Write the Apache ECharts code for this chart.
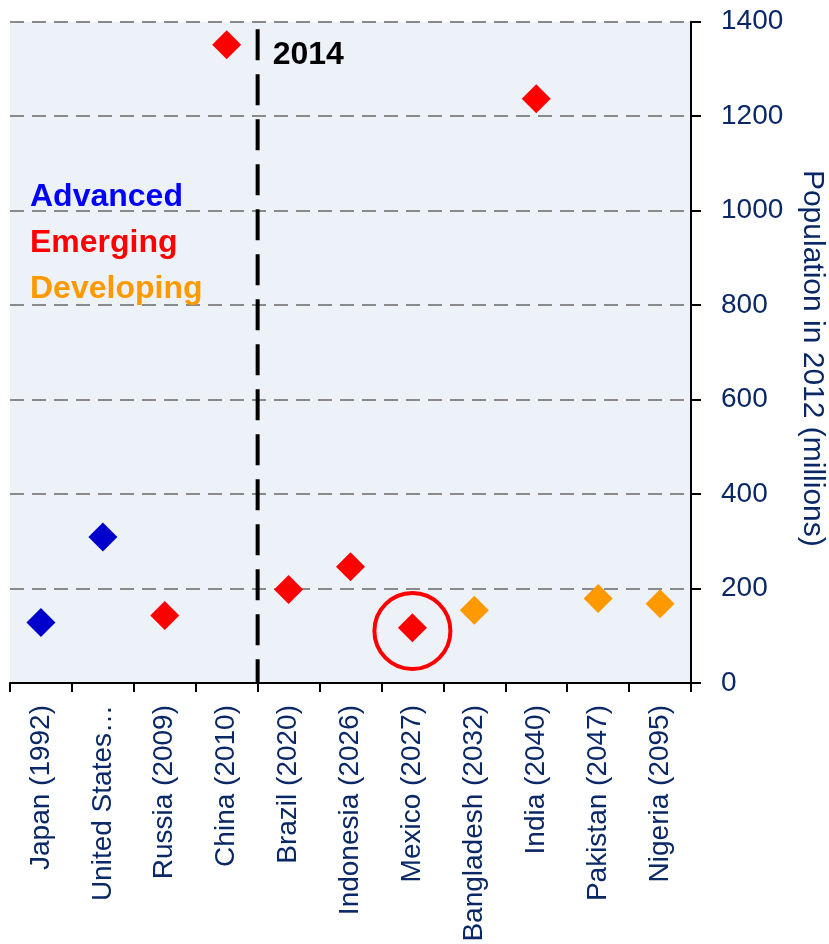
<!DOCTYPE html>
<html>
<head>
<meta charset="utf-8">
<script src="https://cdn.jsdelivr.net/npm/echarts@6/dist/echarts.min.js"></script>
<style>
html,body{margin:0;padding:0;background:#fff;}
#chart{width:829px;height:944px;}
</style>
</head>
<body>
<div id="chart"></div>
<script>
const categories = ['Japan (1992)', 'United States\u2026', 'Russia (2009)', 'China (2010)', 'Brazil (2020)', 'Indonesia (2026)', 'Mexico (2027)', 'Bangladesh (2032)', 'India (2040)', 'Pakistan (2047)', 'Nigeria (2095)'];
const advanced   = [128, 309, '-', '-', '-', '-', '-', '-', '-', '-', '-'];
const emerging   = ['-', '-', 143, 1351, 198, 246, 117, '-', 1237, '-', '-'];
const developing = ['-', '-', '-', '-', '-', '-', '-', 154, '-', 179, 168];
const yTicks = [0, 200, 400, 600, 800, 1000, 1200, 1400];
const divider = { label: '2014', x: 3.5, top: 1384 };
const highlight = { category: 'Mexico (2027)', value: 110 };

const FONT = 'Liberation Sans';
const NAVY = '#0A2766';

const chart = echarts.init(document.getElementById('chart'), null, { renderer: 'canvas' });
chart.setOption({
  animation: false,
  backgroundColor: '#ffffff',
  textStyle: { fontFamily: FONT },
  grid: { left: 10, right: 138, top: 21.7, bottom: 261, show: true, backgroundColor: '#EDF2F9', borderWidth: 0,
          containLabel: false, outerBoundsMode: 'none' },
  legend: {
    orient: 'vertical', left: 20, top: 176, itemGap: 14,
    itemWidth: 0, itemHeight: 32, icon: 'none', selectedMode: false,
    textStyle: { fontFamily: FONT, fontSize: 32, fontWeight: 'bold', lineHeight: 32 },
    data: [
      { name: 'Advanced', textStyle: { color: '#0000FF' } },
      { name: 'Emerging', textStyle: { color: '#FF0000' } },
      { name: 'Developing', textStyle: { color: '#FF9900' } }
    ]
  },
  xAxis: [{
    type: 'category', data: categories, boundaryGap: true,
    axisLine: { lineStyle: { color: '#000', width: 2 } },
    axisTick: { show: true, length: 9, lineStyle: { color: '#000', width: 2 } },
    axisLabel: { rotate: 90, margin: 22, color: NAVY, fontSize: 28, fontFamily: FONT, interval: 0 },
    splitLine: { show: false }
  }, {
    type: 'value', min: -0.5, max: 10.5, show: false
  }],
  yAxis: {
    type: 'value', position: 'right', min: yTicks[0], max: yTicks[yTicks.length - 1], interval: 200,
    name: 'Population in 2012 (millions)', nameLocation: 'middle', nameRotate: -90, nameGap: 106,
    nameTextStyle: { color: NAVY, fontSize: 30, fontFamily: FONT, padding: [0, 0, 0, 12] },
    axisLine: { show: true, onZero: false, lineStyle: { color: '#000', width: 2 } },
    axisTick: { show: true, length: 10, lineStyle: { color: '#000', width: 2 } },
    axisLabel: { margin: 30, color: NAVY, fontSize: 28, fontFamily: FONT, formatter: v => String(v) },
    splitLine: { show: true, lineStyle: { color: '#8A8A8A', width: 2, type: [14, 8] } }
  },
  series: [
    { name: 'Advanced', type: 'scatter', data: advanced, symbol: 'diamond', symbolSize: 29, itemStyle: { color: '#0000CC', opacity: 1 }, z: 5 },
    { name: 'Emerging', type: 'scatter', data: emerging, symbol: 'diamond', symbolSize: 29, itemStyle: { color: '#FF0000', opacity: 1 }, z: 5 },
    { name: 'Developing', type: 'scatter', data: developing, symbol: 'diamond', symbolSize: 29, itemStyle: { color: '#FF9900', opacity: 1 }, z: 5 },
    { name: 'highlight', type: 'scatter', data: [[highlight.category, highlight.value]], symbol: 'circle', symbolSize: 76,
      itemStyle: { color: 'rgba(0,0,0,0)', borderColor: '#FF0000', borderWidth: 4, opacity: 1 }, z: 4, silent: true },
    { name: 'divider', type: 'line', xAxisIndex: 1, data: [[divider.x, divider.top], [divider.x, 0]], symbol: 'none',
      lineStyle: { color: '#000', width: 4, type: [31, 14] }, z: 3, silent: true,
      markPoint: {
        symbol: 'rect', symbolSize: 0,
        data: [{ coord: [divider.x, divider.top], label: { show: true, formatter: divider.label, position: 'right', distance: 0,
          offset: [15, 26], color: '#000', fontSize: 32, fontWeight: 'bold', fontFamily: FONT } }]
      }
    }
  ]
});
</script>
</body>
</html>
